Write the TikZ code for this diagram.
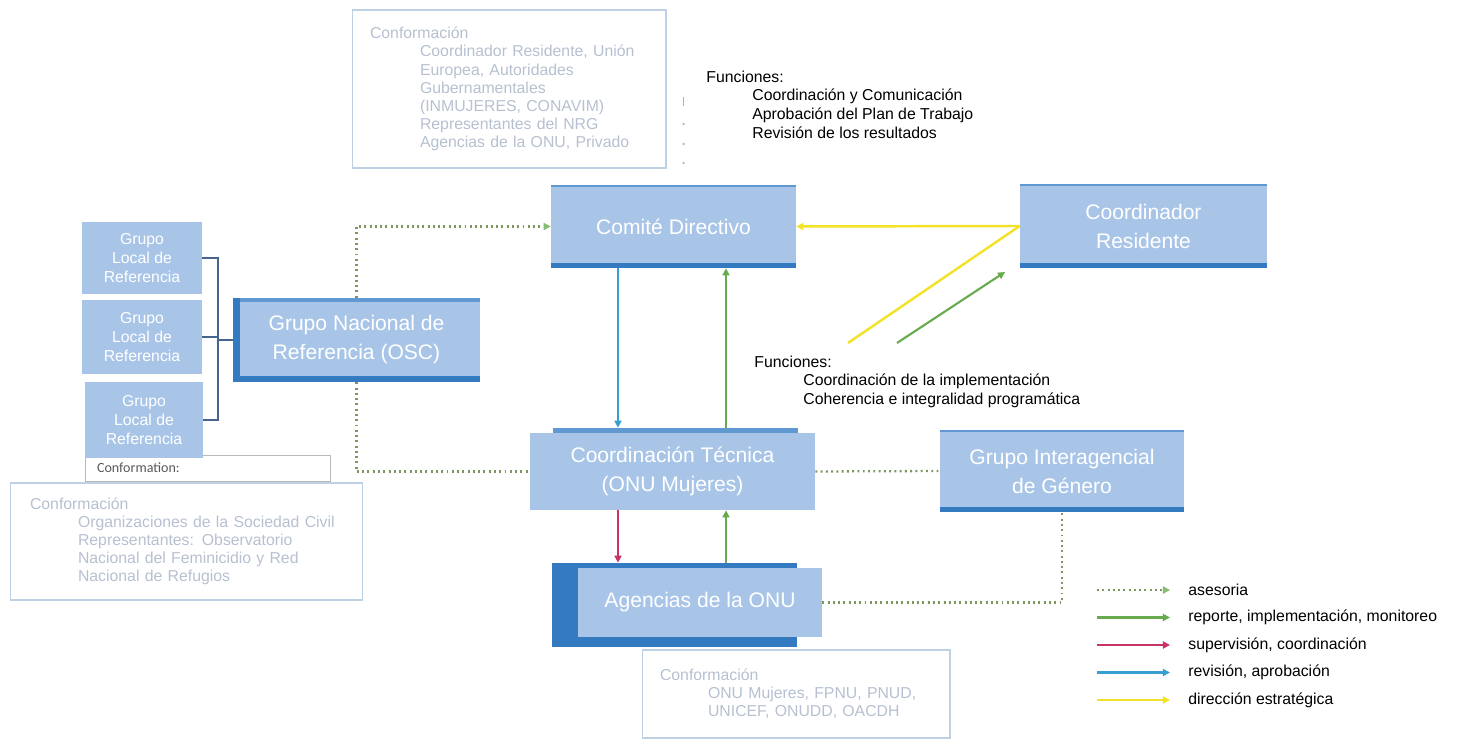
\documentclass[tikz,border=0pt]{standalone}
\usepackage{fontspec}
\setmainfont{Liberation Sans}
\newfontfamily\carlito{Carlito}
\usetikzlibrary{arrows.meta,backgrounds}

\definecolor{boxfill}{RGB}{168,197,232}
\definecolor{boxedge}{RGB}{52,122,192}
\definecolor{boxtop}{RGB}{96,152,210}
\definecolor{confline}{RGB}{190,208,228}
\definecolor{conftext}{RGB}{182,192,208}
\definecolor{asesgreen}{RGB}{128,150,96}
\definecolor{repgreen}{RGB}{104,170,78}
\definecolor{supred}{RGB}{200,52,104}
\definecolor{revblue}{RGB}{56,160,208}
\definecolor{diryellow}{RGB}{242,226,40}
\definecolor{brackblue}{RGB}{70,100,140}

\tikzset{
	unit/.style={rectangle, fill=boxfill, text=white, align=center, inner sep=0pt,
		font=\fontsize{12}{16.5}\selectfont},
	edged/.style={path picture={
		\fill[boxedge] (path picture bounding box.south west) rectangle ([yshift=0.1cm]path picture bounding box.south east);
		\fill[boxtop] (path picture bounding box.north west) rectangle ([yshift=-0.04cm]path picture bounding box.north east);}},
	gnredged/.style={path picture={
		\fill[boxtop] (path picture bounding box.north west) rectangle ([yshift=-0.08cm]path picture bounding box.north east);
		\fill[boxedge] (path picture bounding box.south west) rectangle ([xshift=0.14cm]path picture bounding box.north west);
		\fill[boxedge] (path picture bounding box.south west) rectangle ([yshift=0.12cm]path picture bounding box.south east);}},
	localunit/.style={unit, minimum width=2.4cm, font=\fontsize{9}{10.8}\selectfont},
	confbox/.style={draw=confline, line width=0.6pt, text=conftext, align=left,
		font=\fontsize{9}{10.3}\selectfont, inner xsep=0.36cm, inner ysep=0pt},
	functext/.style={anchor=north west, align=left, inner sep=0pt, font=\fontsize{9}{10.6}\selectfont},
	legtext/.style={anchor=west, inner sep=0pt, font=\fontsize{9}{10.8}\selectfont},
	bracket/.style={draw=brackblue, line width=0.8pt},
	dotline/.style={draw=asesgreen, line width=1.3pt, dash pattern=on 1.1pt off 1.9pt},
	lineases/.style={dotline, -{Triangle[length=4pt,width=4pt,color=repgreen!80]}},
	linerep/.style={draw=repgreen, line width=1.2pt, -{Triangle[length=4pt,width=4pt]}},
	linesup/.style={draw=supred, line width=1.2pt, -{Triangle[length=4pt,width=4pt]}},
	linerev/.style={draw=revblue, line width=1.2pt, -{Triangle[length=4pt,width=4pt]}},
	linedir/.style={draw=diryellow, line width=1.4pt, -{Triangle[length=4pt,width=4pt]}},
	dirplain/.style={draw=diryellow, line width=1.4pt}
}

\begin{document}
\begin{tikzpicture}[x=0.02cm, y=-0.02cm]
\useasboundingbox (0,0) rectangle (1457,739);

\pgfmathsetmacro{\arLx}{618}
\pgfmathsetmacro{\arRx}{726}
\pgfmathsetmacro{\brkx}{218}

% conformation boxes
\node[confbox, minimum width=6.28cm, minimum height=3.16cm, text width=5.56cm] (confcd) at (509,89)
	{Conformación\\\hspace*{1cm}Coordinador Residente, Unión\\\hspace*{1cm}Europea, Autoridades\\\hspace*{1cm}Gubernamentales\\\hspace*{1cm}(INMUJERES, CONAVIM)\\\hspace*{1cm}Representantes del NRG\\\hspace*{1cm}Agencias de la ONU, Privado};
\node[draw=gray!55, line width=0.5pt, align=left, inner xsep=0.24cm, inner ysep=0pt, text=gray!70!black,
	font=\carlito\fontsize{8}{9.6}\selectfont, minimum width=4.9cm, minimum height=0.52cm, text width=4.42cm] (confsmall) at (207.5,468) {Conformation:};
\node[confbox, inner xsep=0.4cm, minimum width=7.06cm, minimum height=2.34cm, text width=6.26cm] (confgnr) at (186.5,541.5)
	{Conformación\\\hspace*{0.96cm}Organizaciones de la Sociedad Civil\\\hspace*{0.96cm}Representantes: Observatorio\\\hspace*{0.96cm}Nacional del Feminicidio y Red\\\hspace*{0.96cm}Nacional de Refugios};
\node[confbox, minimum width=6.16cm, minimum height=1.76cm, text width=5.44cm] (confag) at (796,694)
	{Conformación\\\hspace*{0.96cm}ONU Mujeres, FPNU, PNUD,\\\hspace*{0.96cm}UNICEF, ONUDD, OACDH\\[6pt]};

% marks
\fill[gray!60] (682.8,97) rectangle (684.2,106);
\foreach \yy in {124,144,163} \fill[gray!60] (683.5,\yy) circle (0.025cm);

% functions
\node[functext] (funcd) at (706,70.5)
	{Funciones:\\\hspace*{0.92cm}Coordinación y Comunicación\\\hspace*{0.92cm}Aprobación del Plan de Trabajo\\\hspace*{0.92cm}Revisión de los resultados};
\node[functext] (funct) at (754,355.5)
	{Funciones:\\\hspace*{0.98cm}Coordinación de la implementación\\\hspace*{0.98cm}Coherencia e integralidad programática};

% units
\node[unit, edged, minimum width=4.9cm, minimum height=1.66cm] (cd) at (673.5,226.5) {Comité Directivo};
\node[unit, edged, minimum width=4.94cm, minimum height=1.68cm] (cr) at (1143.5,226) {Coordinador\\Residente};
\node[unit, gnredged, minimum width=4.94cm, minimum height=1.68cm] (gnr) at (356.5,340) {Grupo Nacional de\\Referencia (OSC)};
\node[localunit, minimum height=1.44cm] (gl1) at (142,258) {Grupo\\Local de\\Referencia};
\node[localunit, minimum height=1.48cm] (gl2) at (142,337) {Grupo\\Local de\\Referencia};
\node[localunit, minimum width=2.36cm, minimum height=1.52cm] (gl3) at (144,420) {Grupo\\Local de\\Referencia};
\node[unit, minimum width=5.7cm, minimum height=1.54cm] (ct) at (672.5,471.5) {Coordinación Técnica\\(ONU Mujeres)};
\fill[boxtop] ([xshift=0.46cm]ct.north west) rectangle ([xshift=-0.34cm,yshift=0.1cm]ct.north east);
\node[unit, minimum width=4.88cm, minimum height=1.38cm] (ag) at (700,602.5) {Agencias de la ONU};
\begin{scope}[on background layer]
	\fill[boxedge] ([xshift=-0.52cm,yshift=0.1cm]ag.north west) rectangle ([xshift=-0.5cm,yshift=-0.2cm]ag.south east);
\end{scope}
\node[unit, edged, minimum width=4.88cm, minimum height=1.64cm] (gi) at (1062,471) {Grupo Interagencial\\de Género};

% bracket
\coordinate (brk) at (\brkx,0);
\draw[bracket] (gl1.east) -- (gl1.east -| brk) -- (gl3.east -| brk) -- (gl3.east);
\draw[bracket] (gl2.east) -- (gl2.east -| brk);
\draw[bracket] (gnr.west) -- (gnr.west -| brk);

% asesoria
\draw[lineases] (gnr.north) |- (cd.west);
\draw[dotline] (gnr.south) |- (ct.west);
\draw[dotline] (ct.east) -- (gi.west);
\draw[dotline] (ag.east) -| (gi.south);

% vertical flows
\coordinate (lx) at (\arLx,0);
\coordinate (rx) at (\arRx,0);
\coordinate (cttop) at ([yshift=0.1cm]ct.north);
\coordinate (agtop) at ([yshift=0.1cm]ag.north);
\draw[linerev] (cd.south -| lx) -- (cttop -| lx);
\draw[linerep] (cttop -| rx) -- (cd.south -| rx);
\draw[linesup] (ct.south -| lx) -- (agtop -| lx);
\draw[linerep] (agtop -| rx) -- (ct.south -| rx);

% coordinador residente
\coordinate (ydl) at (848,343);
\coordinate (grs) at (897,343);
\coordinate (gre) at (1005,272);
\draw[linedir] (cr.west) -- (cd.east);
\draw[dirplain] (cr.west) -- (ydl);
\draw[linerep] (grs) -- (gre);

% legend
\foreach \st/\txt [count=\i] in {lineases/asesoria, linerep/{reporte, implementación, monitoreo},
	linesup/{supervisión, coordinación}, linerev/{revisión, aprobación}, linedir/{dirección estratégica}}{
	\node[legtext] (leg\i) at (1188,562.5+27.5*\i) {\txt};
	\draw[\st] ([xshift=-1.82cm]leg\i.west) -- ([xshift=-0.36cm]leg\i.west);
}
\end{tikzpicture}
\end{document}
